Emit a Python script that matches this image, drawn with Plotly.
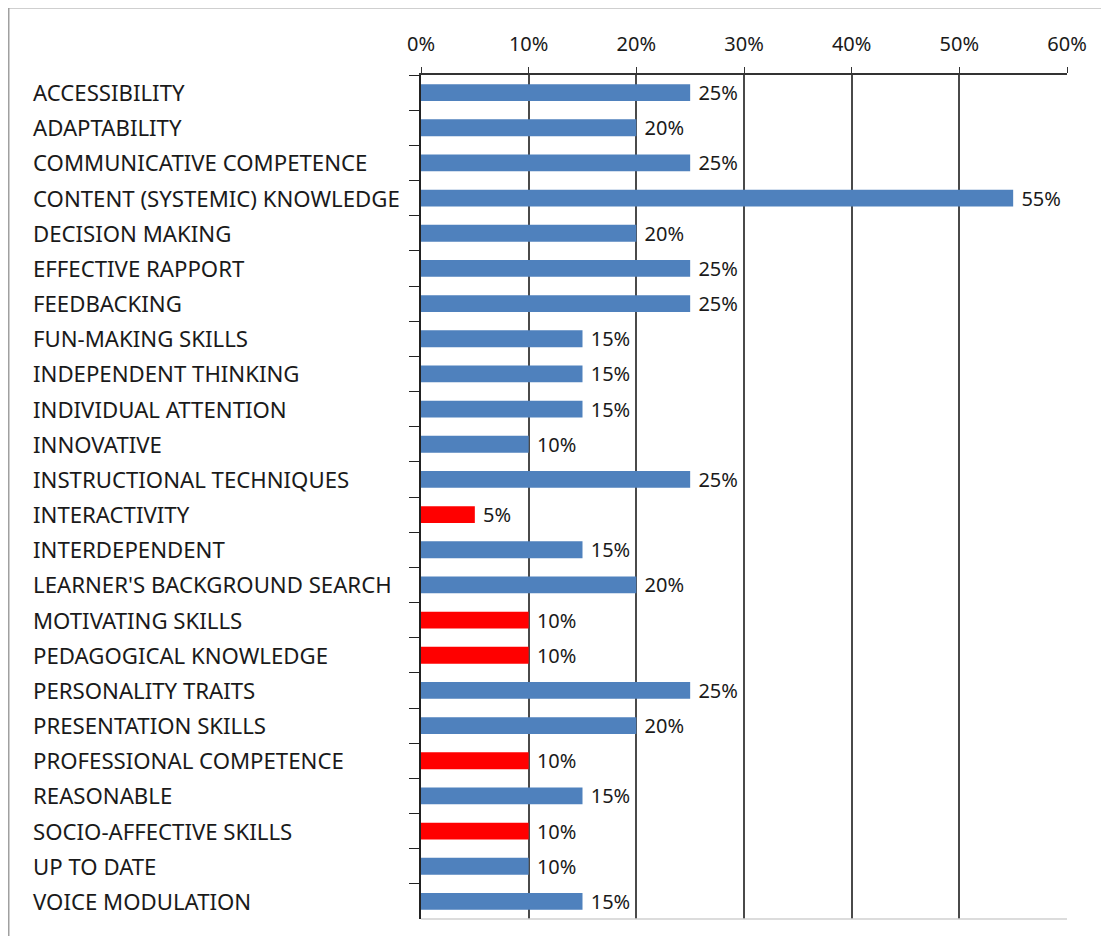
import plotly.graph_objects as go

categories = [
    "ACCESSIBILITY", "ADAPTABILITY", "COMMUNICATIVE COMPETENCE",
    "CONTENT (SYSTEMIC) KNOWLEDGE", "DECISION MAKING", "EFFECTIVE RAPPORT",
    "FEEDBACKING", "FUN-MAKING SKILLS", "INDEPENDENT THINKING",
    "INDIVIDUAL ATTENTION", "INNOVATIVE", "INSTRUCTIONAL TECHNIQUES",
    "INTERACTIVITY", "INTERDEPENDENT", "LEARNER'S BACKGROUND SEARCH",
    "MOTIVATING SKILLS", "PEDAGOGICAL KNOWLEDGE", "PERSONALITY TRAITS",
    "PRESENTATION SKILLS", "PROFESSIONAL COMPETENCE", "REASONABLE",
    "SOCIO-AFFECTIVE SKILLS", "UP TO DATE", "VOICE MODULATION",
]
values = [25, 20, 25, 55, 20, 25, 25, 15, 15, 15, 10, 25,
          5, 15, 20, 10, 10, 25, 20, 10, 15, 10, 10, 15]
highlighted = ["INTERACTIVITY", "MOTIVATING SKILLS", "PEDAGOGICAL KNOWLEDGE",
               "PROFESSIONAL COMPETENCE", "SOCIO-AFFECTIVE SKILLS"]
x_ticks = [0, 10, 20, 30, 40, 50, 60]

BLUE = "#4F81BD"
RED = "#FF0000"
FONT = "Noto Sans"
TXT = "#1a1a1a"

colors = [RED if c in highlighted else BLUE for c in categories]

# page body has an 8px margin
W, H = 1101, 928
ml, mr, mt, mb = 413, 42, 67, 17

fig = go.Figure(go.Bar(
    y=categories, x=values, orientation="h",
    marker=dict(color=colors, line=dict(width=0)),
    text=[f" {v}%" for v in values], textposition="outside",
    constraintext="none",
    textfont=dict(family=FONT, size=20, color=TXT),
    cliponaxis=False, width=0.48,
))

fig.update_layout(
    width=W, height=H,
    margin=dict(l=ml, r=mr, t=mt, b=mb),
    paper_bgcolor="white", plot_bgcolor="white",
    showlegend=False,
    font=dict(family=FONT, size=20, color=TXT),
)
fig.update_xaxes(
    side="top", range=[0, 60], tickvals=x_ticks,
    ticktext=[f"{t}%" for t in x_ticks],
    showgrid=True, gridcolor="#4a4a4a", gridwidth=1.5,
    showline=True, linecolor="#333", linewidth=1.5,
    ticks="outside", ticklen=6, tickcolor="#333",
    ticklabelstandoff=8,
    zeroline=False, tickfont=dict(family=FONT, size=20, color=TXT),
)
fig.update_yaxes(
    autorange="reversed", tickson="boundaries",
    showticklabels=False, ticks="outside", ticklen=10, tickcolor="#222",
    showline=True, linecolor="#222", linewidth=1.5, showgrid=False,
)

pw, ph = W - ml - mr, H - mt - mb

# left-aligned category labels
label_x = (23 - ml) / pw
for c in categories:
    fig.add_annotation(
        x=label_x, xref="paper", y=c, yref="y", text=c, showarrow=False,
        xanchor="left", yanchor="middle",
        font=dict(family=FONT, size=22.2, color=TXT),
    )

# bottom light border of plot area
fig.add_shape(type="line", xref="paper", yref="paper", x0=0, x1=1, y0=0, y1=0,
              line=dict(color="#d0d0d0", width=1.5))
# outer chart frame (top and left edges)
fx0 = (0.75 - ml) / pw
fy_top = 1 + (mt + 0.25) / ph
fy_bot = -(mb + 5) / ph
fig.add_shape(type="line", xref="paper", yref="paper", x0=fx0, x1=(W + 5 - ml) / pw,
              y0=fy_top, y1=fy_top, line=dict(color="#a0a0a0", width=1.5))
fig.add_shape(type="line", xref="paper", yref="paper", x0=fx0, x1=fx0,
              y0=fy_top, y1=fy_bot, line=dict(color="#a0a0a0", width=1.5))

fig.write_html("out.html")
